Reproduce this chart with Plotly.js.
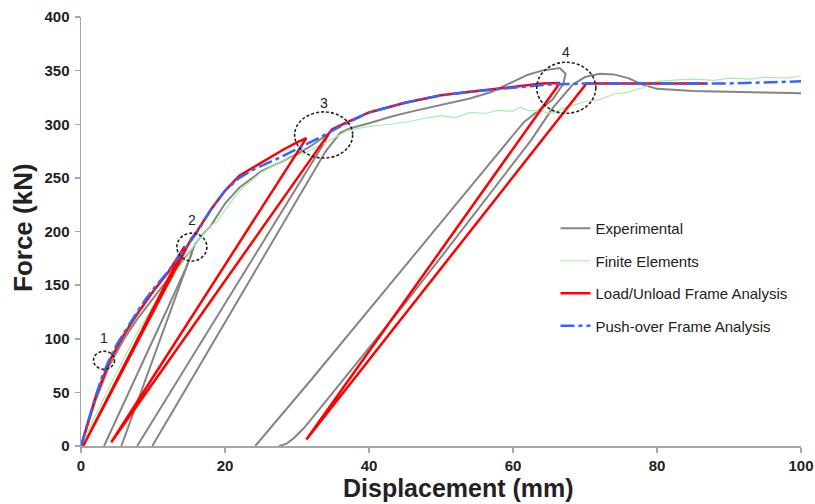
<!DOCTYPE html>
<html>
<head>
<meta charset="utf-8">
<script src="https://cdn.plot.ly/plotly-3.0.1.min.js"></script>
<style>html,body{margin:0;padding:0;background:#fff;}#chart{width:815px;height:504px;}</style>
</head>
<body>
<div id="chart"></div>
<script>
// Experimental (null separates unloading / reloading branches)
const expX = [0,2,4,6,8,10,12,14,15.5,15.3,14.5,12,9,6,3.2,null,
  5.6,8,10,12,14,15.8,17,18,20,22,25,28,30,32,34.5,34,28,22,16,10,7.8,null,
  9.9,15,20,25,30,34,36,37.3,40,43,46,50,54,57,60,62,64,66.5,67.3,67,65.5,61.5,55,48,40,32,24.2,null,
  27.5,28.5,29.5,31,35,40,45,50,55,60,62.5,65.5,68.3,70,72,74,76,78,80,85,90,95,100];
const expY = [0,42,76,100,120,138,155,172,184,178,165,128,84,40,0,null,
  0,44,81,118,155,188,198,205,226,241,256,266,272,280,292,285,220,154,89,24,0,null,
  0,58,115,172,229,275,292,296,301,307,312,318,324,330,340,346,350,352.5,347,338,323,302,249,192,127,62,0,null,
  0,2,7,17,50,91,133,176,220,263,285,315,337,344,347,346.5,343,337,333,331,330,329.5,329];

// Finite Elements
const feX = [0,2,4,6,8,10,12,14,16,18,19,20,22,25,28,31,34,37,40,43,46,48,50,52,54,56,58,60,61,62,64,65.5,67,70,72,74,76,78,80,82,85,88,90,93,95,98,100];
const feY = [0,28,56,82,108,130,150,170,190,205,210,220,238,255,266,273,283,294,298,300,303,306,308,306,311,310,313,312,316,313,312,310,315,321,323,328,330,334,340,341,342,341,343,342,344,343,345];

// Load/Unload Frame Analysis
const luX = [0,2,4,6,8,10,12,14.4,0.3,15.3,16,18,20,22,24,26,28,30,31.3,4.2,34.8,36,40,45,50,55,60,64,66.5,31.3,70.2,75,80,87];
const luY = [0,45,80,104,125,144,161,186,0,193,199,220,238,252,260,268,276,283,287,3.5,295,299,311,320,327,331,335,338,338.5,6,338,338,338,338];

// Push-over Frame Analysis
const poX = [0,1,2,3,4,5,6,7,8,9,10,12,14,16,18,20,22,24,27,30,33,36,40,45,50,55,60,65,70,80,90,100];
const poY = [0,24,46,66,82,95,106,116,127,137,146,162,180,198,220,238,250,258,267,277,287,298,311,320,327,331,334,337,338,338,338,340];

// Marked points (label, centre x, centre y, half-width mm, half-height kN, label y)
const markLabels = ["1","2","3","4"];
const markX = [3.2,15.4,33.7,67.4];
const markY = [80,185.5,290,334];
const markRx = [1.46,2.08,4.03,4.1];
const markRy = [8.4,13,21.5,23.8];
const markLabelY = [101,211,320,367];

const FONT = 'Liberation Sans, Arial, sans-serif';

const traces = [
  {x: expX, y: expY, name: 'Experimental', mode: 'lines', connectgaps: false,
   line: {color: '#858585', width: 2}, legendgroup: 'a'},
  {x: feX, y: feY, name: 'Finite Elements', mode: 'lines',
   line: {color: '#a8eea8', width: 1.2}, legendgroup: 'b'},
  {x: luX, y: luY, name: 'Load/Unload Frame Analysis', mode: 'lines',
   line: {color: '#ff0000', width: 2.5}, legendgroup: 'c'},
  {x: poX, y: poY, name: 'Push-over Frame Analysis', mode: 'lines',
   line: {color: '#3366ff', width: 2.5, dash: '14px,4px,4px,4px'}, legendgroup: 'd'}
];

const shapes = markX.map((cx, i) => ({
  type: 'circle', xref: 'x', yref: 'y',
  x0: cx - markRx[i], x1: cx + markRx[i], y0: markY[i] - markRy[i], y1: markY[i] + markRy[i],
  line: {color: '#222', width: 1.6, dash: '3px,2px'}
}));
const annotations = markLabels.map((t, i) => ({
  x: markX[i], y: markLabelY[i], xref: 'x', yref: 'y', text: t, showarrow: false,
  font: {family: FONT, size: 14, color: '#222'}
}));
annotations.push({
  xref: 'paper', yref: 'paper', x: (458 - 81) / 720, y: (446 - 488) / 429,
  xanchor: 'center', yanchor: 'middle', showarrow: false,
  text: '<b>Displacement (mm)</b>', font: {family: FONT, size: 25, color: '#222'}
});
annotations.push({
  xref: 'paper', yref: 'paper', x: (23 - 81) / 720, y: (446 - 227) / 429,
  xanchor: 'center', yanchor: 'middle', showarrow: false, textangle: -90,
  text: '<b>Force (kN)</b>', font: {family: FONT, size: 26, color: '#222'}
});

const layout = {
  width: 815, height: 504,
  margin: {l: 81, r: 14, t: 17, b: 58},
  paper_bgcolor: '#fff', plot_bgcolor: '#fff',
  font: {family: FONT, color: '#222'},
  showlegend: true,
  legend: {x: 0.659, y: 0.5455, xanchor: 'left', yanchor: 'top', bgcolor: 'rgba(0,0,0,0)',
    font: {size: 15, color: '#222'}, traceorder: 'grouped', tracegroupgap: 10},
  xaxis: {range: [0, 100], dtick: 20, showgrid: false, zeroline: false,
    showline: true, linecolor: '#a6a6a6', linewidth: 1.5, ticks: 'outside', ticklen: 5,
    tickcolor: '#a6a6a6', tickwidth: 1.5,
    tickfont: {size: 15, color: '#222', family: FONT, weight: 'bold'}},
  yaxis: {range: [0, 400], dtick: 50, showgrid: false, zeroline: false,
    showline: true, linecolor: '#a6a6a6', linewidth: 1.5, ticks: 'outside', ticklen: 5,
    tickcolor: '#a6a6a6', tickwidth: 1.5, ticklabelstandoff: 2,
    tickfont: {size: 15, color: '#222', family: FONT, weight: 'bold'}},
  shapes: shapes,
  annotations: annotations
};

Plotly.newPlot('chart', traces, layout, {displayModeBar: false, staticPlot: true});
</script>
</body>
</html>
